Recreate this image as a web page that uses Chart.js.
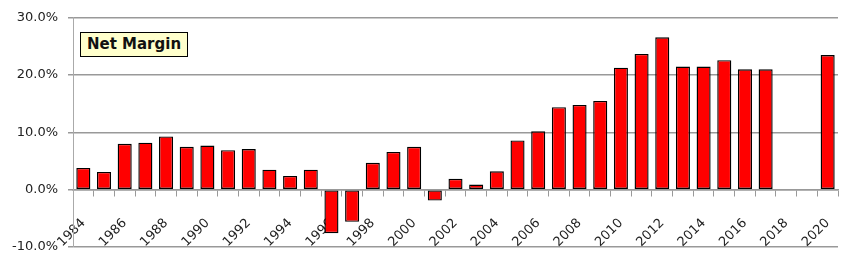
<!DOCTYPE html>
<html>
<head>
<meta charset="utf-8">
<script src="https://cdn.jsdelivr.net/npm/chart.js@4/dist/chart.umd.min.js"></script>
<style>
  html, body { margin: 0; padding: 0; background: #fff; }
  .wrap { position: relative; width: 856px; height: 265px; }
  .legend {
    position: absolute; left: 80px; top: 32px; width: 106px; height: 23px;
    background: #ffffcc; border: 1px solid #000;
    font: bold 15px "DejaVu Sans", sans-serif; line-height: 23px; text-align: center; color: #111;
  }
</style>
</head>
<body>
<div class="wrap">
  <canvas class="myChart" width="856" height="265"></canvas>
  <div class="legend">Net Margin</div>
</div>
<script>
const years = ['1984','1985','1986','1987','1988','1989','1990','1991','1992','1993','1994','1995','1996','1997','1998','1999','2000','2001','2002','2003','2004','2005','2006','2007','2008','2009','2010','2011','2012','2013','2014','2015','2016','2017','2018','2019','2020'];
const netMargin = [3.8, 3.1, 8.0, 8.2, 9.3, 7.5, 7.7, 6.9, 7.1, 3.5, 2.4, 3.5, -7.6, -5.6, 4.7, 6.6, 7.5, -1.9, 1.9, 0.9, 3.2, 8.6, 10.2, 14.4, 14.8, 15.5, 21.3, 23.7, 26.6, 21.5, 21.5, 22.6, 21.0, 21.0, null, null, 23.5];
const yTicks = [-10, 0, 10, 20, 30];

const ctx = document.querySelector('.myChart').getContext('2d');
const myChart = new Chart(ctx, {
    type: 'bar',
    data: {
        labels: years,
        datasets: [{
            label: 'Net Margin',
            data: netMargin,
            backgroundColor: '#ff0000',
            borderColor: '#000000',
            borderWidth: 1.4,
            borderSkipped: false,
            barPercentage: 0.68,
            categoryPercentage: 1
        }]
    },
    options: {
        responsive: false,
        animation: false,
        layout: { padding: { left: 0, right: 18, top: 13, bottom: 18 } },
        plugins: { legend: { display: false }, tooltip: { enabled: false } },
        scales: {
            // axis line + tick marks at zero
            x: {
                position: { y: 0 },
                offset: true,
                grid: { drawOnChartArea: false, color: '#999', tickLength: 6, offset: true },
                border: { color: '#999', width: 1.5 },
                ticks: { display: false, autoSkip: false }
            },
            // year labels, sitting a bit under the zero line
            xLabels: {
                type: 'category',
                axis: 'x',
                position: { y: -2.6 },
                offset: true,
                grid: { display: false },
                border: { display: false },
                ticks: {
                    autoSkip: false, minRotation: 45, maxRotation: 45,
                    color: '#222', font: { family: 'DejaVu Sans', size: 13 },
                    callback: function (v, i) { return i % 2 === 0 ? years[i] : ''; }
                }
            },
            y: {
                min: -10, max: 30,
                afterFit: function (s) { s.width = 73; },
                afterBuildTicks: function (s) { s.ticks = yTicks.map(v => ({ value: v })); },
                grid: { color: '#999', lineWidth: 1.5, tickLength: 5 },
                border: { display: true, color: '#aaa', width: 1 },
                ticks: {
                    padding: 10, color: '#222', font: { family: 'DejaVu Sans', size: 13 },
                    callback: function (v) { return v.toFixed(1) + '%'; }
                }
            }
        }
    }
});
</script>
</body>
</html>
